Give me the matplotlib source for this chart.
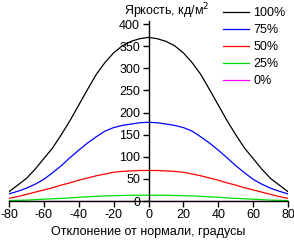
import matplotlib
matplotlib.use("Agg")
import matplotlib.pyplot as plt
import numpy as np

plt.rcParams['font.family'] = ['Liberation Sans', 'DejaVu Sans']

half_angles = [0, 5, 10, 15, 20, 25, 30, 35, 40, 45, 50, 55, 60, 65, 70, 75, 80]
b100_half = [370, 367, 361, 351, 335, 313, 286, 252, 217, 182, 150, 120, 96, 72, 51, 36, 21]
b75_half = [178, 177, 174, 171, 166, 158, 145, 131, 115, 98, 80, 64, 49, 38, 29, 22, 16]
b50_half = [69, 69, 68, 67, 65, 61, 57, 52, 47, 41, 36, 30, 25, 20, 15, 10, 6]
b25_half = [13, 13, 13, 12.5, 12, 11.5, 10.5, 9.5, 8.5, 7, 6, 5, 4, 3, 2, 1.5, 1]
b0_half = [0] * 17

def mirror(a):
    return list(reversed(a[1:])) + list(a)

angles = [-a for a in reversed(half_angles[1:])] + half_angles
series = [("100%", mirror(b100_half), "black"), ("75%", mirror(b75_half), "blue"),
          ("50%", mirror(b50_half), "red"), ("25%", mirror(b25_half), "#00e000"),
          ("0%", mirror(b0_half), "magenta")]
xticks = [-80, -60, -40, -20, 0, 20, 40, 60, 80]
yticks = [0, 50, 100, 150, 200, 250, 300, 350, 400]

fig = plt.figure(figsize=(2.94, 2.42), dpi=100)
ax = fig.add_axes([9/294, 41/242, 279/294, 180/242])
fs = 9
for lab, vals, col in series:
    ax.plot(angles, vals, color=col, lw=0.9, label=lab, zorder=2 if lab != "0%" else 1)

ax.set_xlim(-80, 80)
ax.set_ylim(0, 407)
ax.spines['left'].set_position(('data', 0))
ax.spines['bottom'].set_position(('data', 0))
ax.spines['right'].set_visible(False)
ax.spines['top'].set_visible(False)
for s in ('left', 'bottom'):
    ax.spines[s].set_linewidth(1.0)
    ax.spines[s].set_zorder(3)
ax.set_xticks(xticks)
ax.set_yticks(yticks)
ax.tick_params(axis='both', labelsize=fs, length=4, width=1, direction='out', pad=2)
ax.set_xticklabels([str(v) for v in xticks])
ax.set_yticklabels([str(v) for v in yticks])
ax.patch.set_visible(False)

fig.text(148/294, 1 - 232/242, "Отклонение от нормали, градусы", ha='center', va='center', fontsize=fs)
fig.text(124/294, 1 - 11/242, "Яркость, кд/м$^2$", ha='left', va='center', fontsize=fs)

leg = ax.legend(loc='upper left', bbox_to_anchor=(223/294, 1 - 7/242), bbox_transform=fig.transFigure,
                frameon=False, fontsize=fs, handlelength=2.1, handletextpad=0.32,
                labelspacing=0.4, borderpad=0, borderaxespad=0)
fig.savefig("out.png", dpi=100)
